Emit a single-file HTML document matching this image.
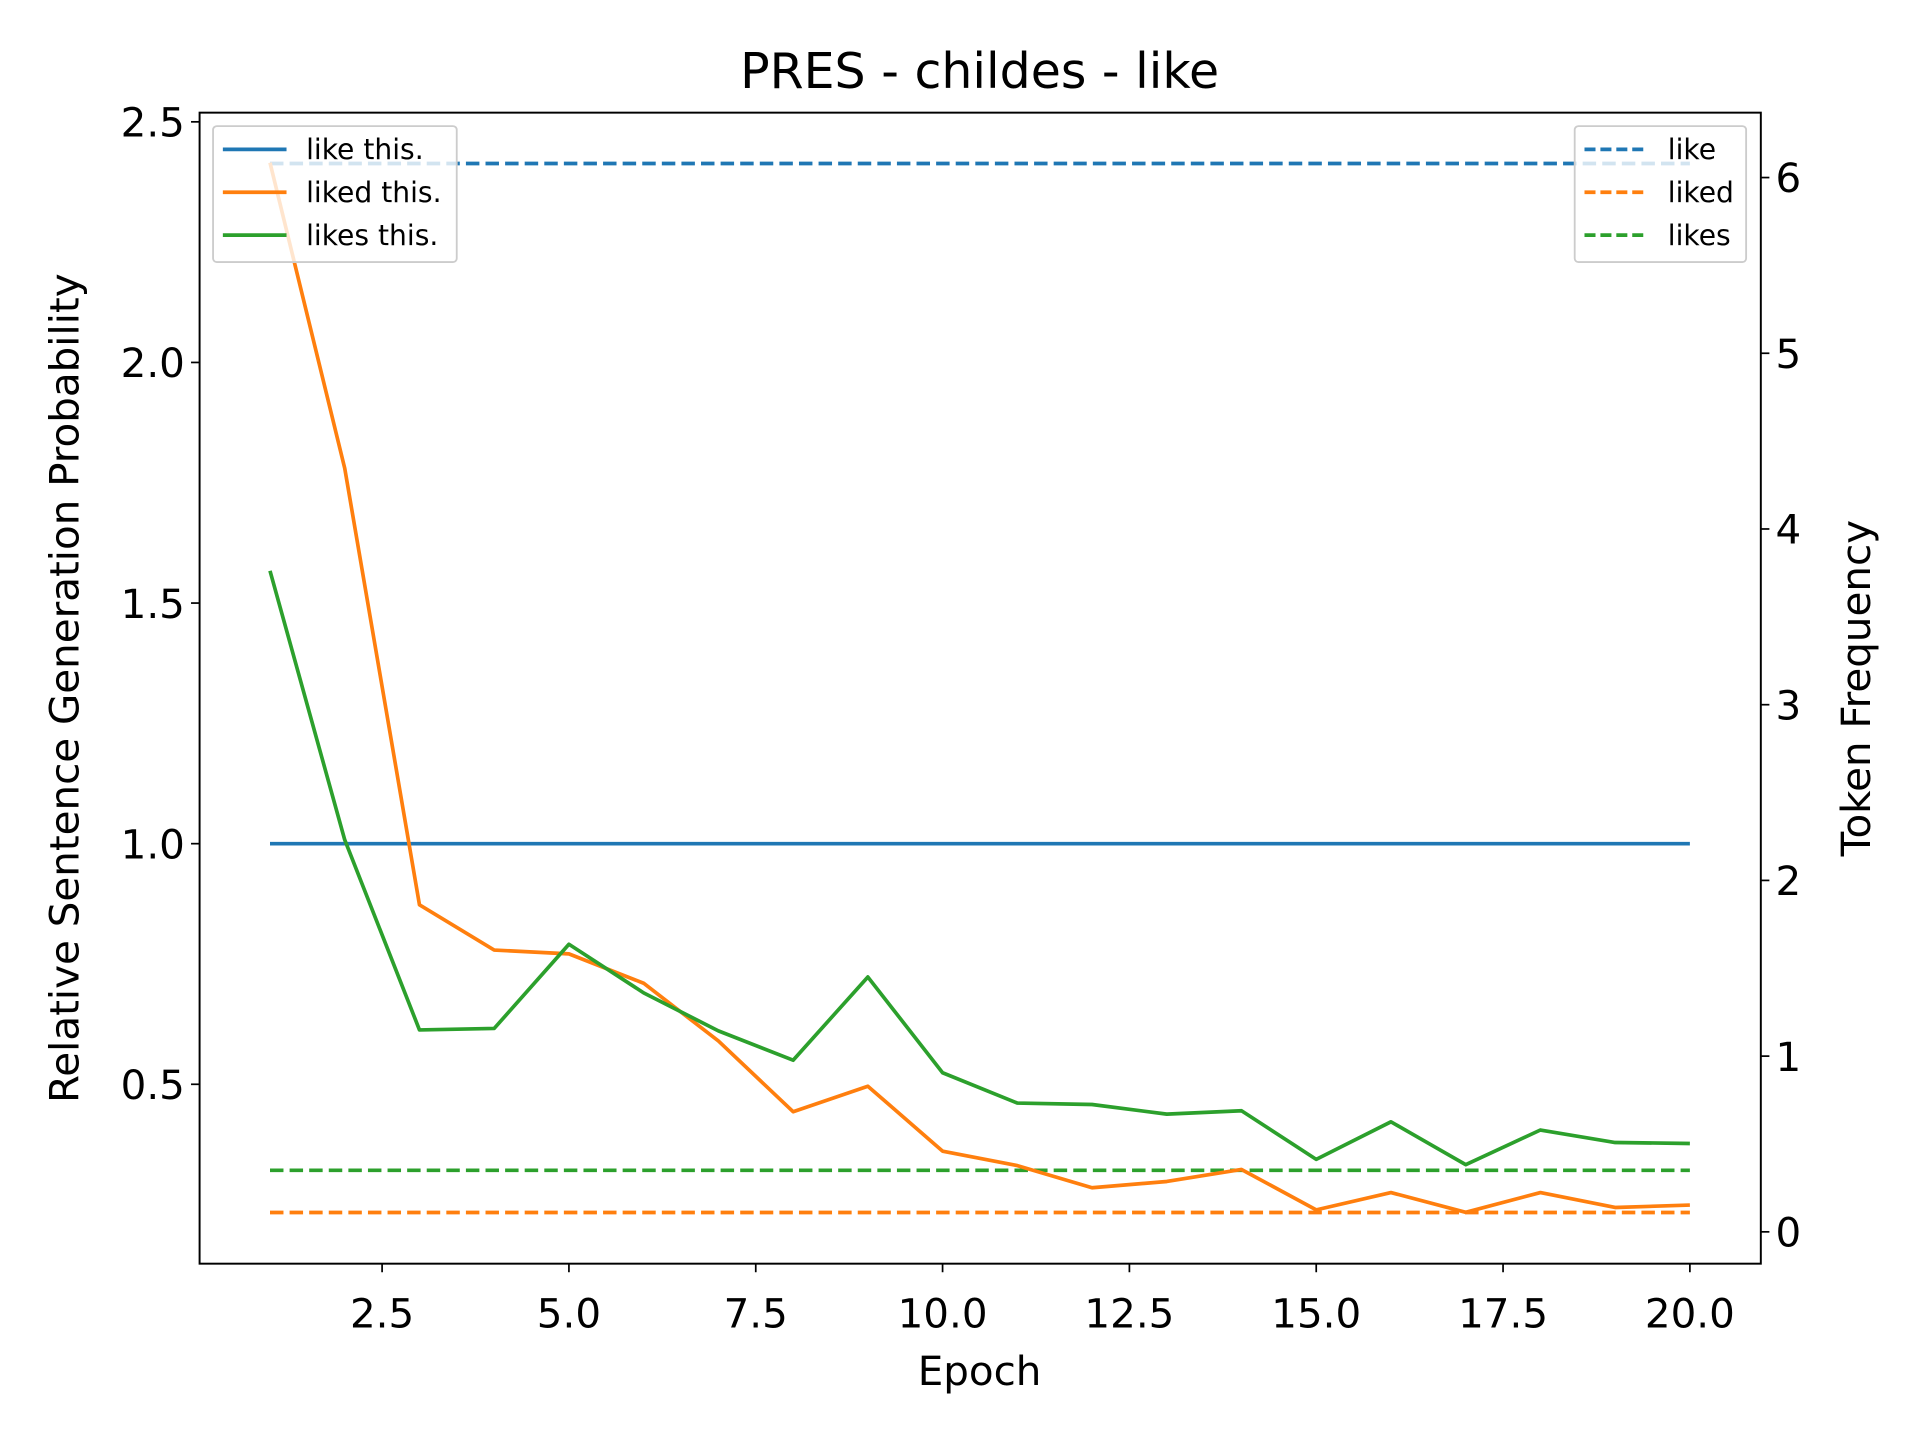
<!DOCTYPE html>
<html><head><meta charset="utf-8"><style>
html,body{margin:0;padding:0;background:#fff}
svg{display:block}
text{font-family:"DejaVu Sans","Liberation Sans",sans-serif;fill:#000}
</style></head><body>
<svg id="chart" width="1920" height="1440" viewBox="0 0 1568 1176" preserveAspectRatio="none" xmlns="http://www.w3.org/2000/svg">
<rect width="1568" height="1176" fill="#fff"/>
<text x="800" y="72" font-size="40" text-anchor="middle">PRES - childes - like</text>
<g id="marks"></g>
<rect x="163" y="92" width="1275" height="940" fill="none" stroke="#000" stroke-width="1.6"/>
<text x="800" y="1131" font-size="33" text-anchor="middle">Epoch</text>
<text transform="translate(64,562) rotate(-90)" font-size="33" text-anchor="middle">Relative Sentence Generation Probability</text>
<text transform="translate(1527,562) rotate(-90)" font-size="33" text-anchor="middle">Token Frequency</text>
<g id="axes"></g>
<g id="legends"></g>
</svg>
<script>
const epochs=[1,2,3,4,5,6,7,8,9,10,11,12,13,14,15,16,17,18,19,20];
const likeThis=[1,1,1,1,1,1,1,1,1,1,1,1,1,1,1,1,1,1,1,1];
const likedThis=[2.415,1.78,0.873,0.779,0.771,0.71,0.59,0.443,0.496,0.361,0.331,0.285,0.298,0.323,0.239,0.275,0.234,0.275,0.244,0.249];
const likesThis=[1.567,1.008,0.613,0.616,0.791,0.69,0.611,0.55,0.723,0.524,0.461,0.458,0.438,0.445,0.344,0.422,0.333,0.405,0.379,0.377];
const freqLike=6.08, freqLiked=0.11, freqLikes=0.35;
const xTicks=[2.5,5.0,7.5,10.0,12.5,15.0,17.5,20.0];
const yTicks=[0.5,1.0,1.5,2.0,2.5];
const y2Ticks=[0,1,2,3,4,5,6];
const NS="http://www.w3.org/2000/svg";
const X=v=>220.5+(v-1)*61.03;
const Y=v=>689-(v-1)*393;
const Y2=v=>1006-v*143.5;
function el(tag,attrs,parent,txt){const e=document.createElementNS(NS,tag);for(const k in attrs)e.setAttribute(k,attrs[k]);if(txt!==undefined)e.textContent=txt;parent.appendChild(e);return e;}
const marks=document.getElementById('marks'),axes=document.getElementById('axes'),leg=document.getElementById('legends');
const C={b:'#1f77b4',o:'#ff7f0e',g:'#2ca02c'};
function line(vals,col,name){const p=el('polyline',{points:vals.map((v,i)=>X(epochs[i])+','+Y(v)).join(' '),fill:'none',stroke:col,'stroke-width':3,'stroke-linejoin':'round'},marks);

}
function hline(v,col,name){const l=el('line',{x1:X(epochs[0]),x2:X(epochs[epochs.length-1]),y1:Y2(v),y2:Y2(v),stroke:col,'stroke-width':3,'stroke-dasharray':'11,5'},marks);

}
hline(freqLike,C.b,'like-frequency-line');
hline(freqLiked,C.o,'liked-frequency-line');
hline(freqLikes,C.g,'likes-frequency-line');
line(likeThis,C.b,'like-this-line');
line(likedThis,C.o,'liked-this-line');
line(likesThis,C.g,'likes-this-line');
xTicks.forEach(t=>{const x=X(t);el('line',{x1:x,x2:x,y1:1032,y2:1039,stroke:'#000','stroke-width':1.4},axes);
const tx=el('text',{x:x,y:1084,'font-size':33,'text-anchor':'middle'},axes,t.toFixed(1));

});
yTicks.forEach(t=>{const y=Y(t);el('line',{x1:156,x2:163,y1:y,y2:y,stroke:'#000','stroke-width':1.4},axes);
const tx=el('text',{x:151,y:y+12,'font-size':33,'text-anchor':'end'},axes,t.toFixed(1));

});
y2Ticks.forEach(t=>{const y=Y2(t);el('line',{x1:1438,x2:1445,y1:y,y2:y,stroke:'#000','stroke-width':1.4},axes);
const tx=el('text',{x:1450,y:y+12,'font-size':33},axes,String(t));

});
function legend(x,w,items,dash,name){const g=el('g',{},leg);


el('rect',{x:x,y:103,width:w,height:111,rx:3,fill:'#fff','fill-opacity':0.8,stroke:'#ccc','stroke-width':1.5},g);
items.forEach((it,i)=>{const y=122+i*35;el('line',{x1:x+8,x2:x+60,y1:y,y2:y,stroke:it[1],'stroke-width':3,'stroke-dasharray':dash?'9,4':'none'},g);
const t=el('text',{x:x+76,y:y+8,'font-size':23},g,it[0]);

});}
legend(174,199,[['like this.',C.b],['liked this.',C.o],['likes this.',C.g]],false,'left-legend');
legend(1286,140,[['like',C.b],['liked',C.o],['likes',C.g]],true,'right-legend');
</script>
</body></html>
